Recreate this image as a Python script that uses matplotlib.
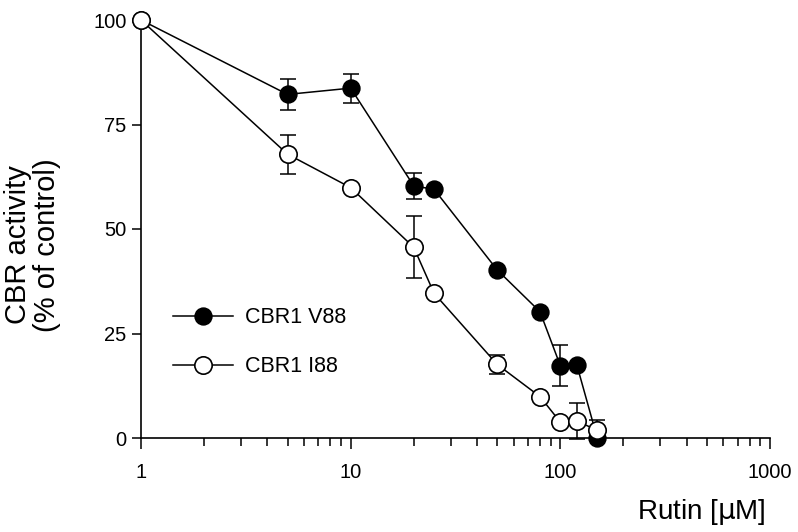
import matplotlib
matplotlib.use('Agg')
import matplotlib.pyplot as plt
from matplotlib.ticker import LogLocator, NullFormatter

plt.rcParams['font.family'] = ['Liberation Sans', 'DejaVu Sans']

# data
rutin = [1, 5, 10, 20, 25, 50, 80, 100, 120, 150]
v88 = [100, 82.2, 83.7, 60.3, 59.5, 40.2, 30.2, 17.3, 17.4, 0.0]
v88_err = [0, 3.8, 3.5, 3.2, 0, 0, 0, 4.9, 0, 0]
i88 = [100, 67.9, 59.9, 45.6, 34.6, 17.6, 9.9, 3.8, 4.1, 1.8]
i88_err = [0, 4.7, 0, 7.4, 0, 2.3, 0, 0, 4.3, 2.5]
labels = ['CBR1 V88', 'CBR1 I88']
xticks = [1, 10, 100, 1000]
xtick_labels = ['1', '10', '100', '1000']
yticks = [0, 25, 50, 75, 100]

fig = plt.figure(figsize=(7.98, 5.32), dpi=100)
ax = fig.add_axes([141/798, 94/532, 629/798, 418/532])

lw = 1.1
# error bars first so the markers sit on top
ax.errorbar(rutin, v88, yerr=v88_err, fmt='none', ecolor='black',
            elinewidth=lw, capsize=6, capthick=lw, zorder=2, clip_on=False)
ax.errorbar(rutin, i88, yerr=i88_err, fmt='none', ecolor='black',
            elinewidth=lw, capsize=6, capthick=lw, zorder=2, clip_on=False)
ax.plot(rutin, v88, '-o', color='black', lw=lw, ms=12, mfc='black',
        mec='black', mew=1.2, zorder=3, clip_on=False, label=labels[0])
ax.plot(rutin, i88, '-o', color='black', lw=lw, ms=12.5, mfc='white',
        mec='black', mew=1.2, zorder=4, clip_on=False, label=labels[1])

ax.set_xscale('log')
ax.set_xlim(1, 1000)
ax.set_ylim(0, 100)
ax.set_xticks(xticks, labels=xtick_labels)
ax.xaxis.set_minor_locator(LogLocator(base=10, subs=range(2, 10)))
ax.xaxis.set_minor_formatter(NullFormatter())
ax.set_yticks(yticks)

for s in ['top', 'right']:
    ax.spines[s].set_visible(False)
for s in ['left', 'bottom']:
    ax.spines[s].set_linewidth(1.2)

ax.tick_params(axis='both', which='major', labelsize=14.5, width=1.1,
               colors='black')
ax.tick_params(axis='x', which='major', length=8, pad=10)
ax.tick_params(axis='x', which='minor', length=5.5, width=1.1)
ax.tick_params(axis='y', which='major', length=6.5, pad=4)

ax.set_xlabel(r'Rutin [$\mathrm{\mu}$M]', fontsize=20)
ax.xaxis.set_label_coords((701-141)/629, -(497-438)/418)
ax.set_ylabel('CBR activity\n(% of control)', fontsize=21,
              linespacing=1.05)
ax.yaxis.set_label_coords(-(141-61)/629, (438-245)/418)

ax.legend(loc='center left', bbox_to_anchor=(0.051, 0.229), frameon=False,
          fontsize=15.5, handlelength=2.8, handletextpad=0.55,
          labelspacing=1.3, borderpad=0, borderaxespad=0)

fig.savefig('out.png', dpi=100)
